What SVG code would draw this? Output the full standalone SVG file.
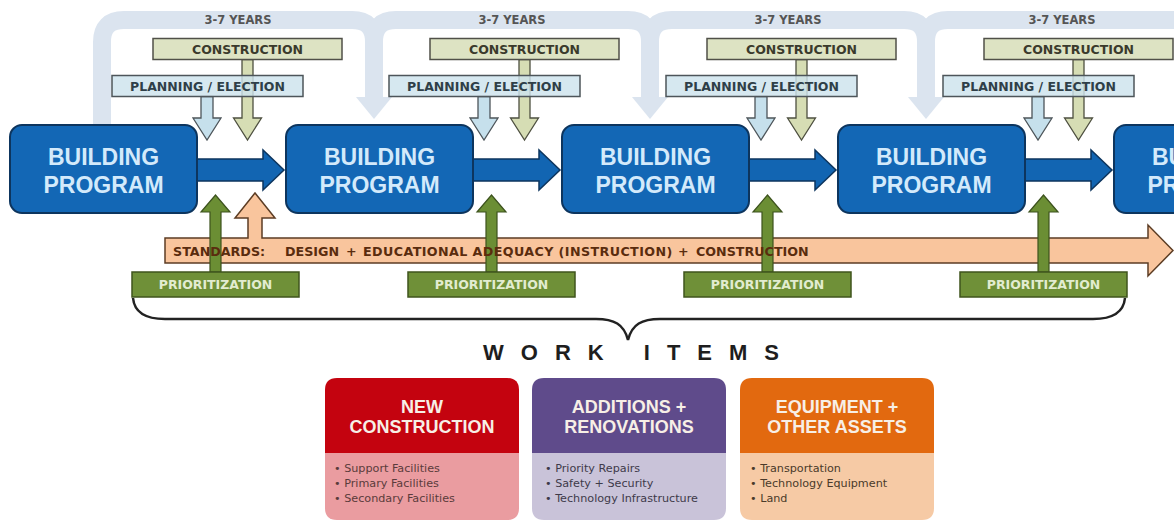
<svg xmlns="http://www.w3.org/2000/svg" width="1174" height="525" viewBox="0 0 1174 525">
<style>
.band{fill:none;stroke:#dbe4ef;stroke-width:18}
.bandhead{fill:#dbe4ef}
.yrs{font-family:"DejaVu Sans",Verdana,sans-serif;font-weight:bold;font-size:11.5px;fill:#555;text-anchor:middle}
.con{fill:#dde3c3;stroke:#505048;stroke-width:1.5}
.plan{fill:#cde3ed;fill-opacity:0.82;stroke:#4d555a;stroke-width:1.5}
.lbl{font-family:"DejaVu Sans",Verdana,sans-serif;font-weight:bold;font-size:12.5px;text-anchor:middle}
.conarr{fill:#d6ddb4;stroke:#4e5040;stroke-width:1.3}
.planarr{fill:#c6e0ec;stroke:#4d555a;stroke-width:1.3}
.bp{fill:#1367b5;stroke:#0d355e;stroke-width:2}
.bpt{font-family:"Liberation Sans",Arial,sans-serif;font-weight:bold;font-size:23px;fill:#d3eafb;text-anchor:middle}
.blue{fill:#1265b2;stroke:#0d355e;stroke-width:1.5}
.green{fill:#6b8e34;stroke:#3c521d;stroke-width:1.2}
.prio{fill:#6f9038;stroke:#3f541d;stroke-width:1.5}
.std{fill:#f9c59d;stroke:#5c3d24;stroke-width:1.5}
.stdt{font-family:"DejaVu Sans",Verdana,sans-serif;font-weight:bold;font-size:12.7px;fill:#5a2c0e}
.hd{font-family:"Liberation Sans",Arial,sans-serif;font-weight:bold;font-size:18px;fill:#f7efe6;text-anchor:middle}
.it{font-family:"DejaVu Sans",Verdana,sans-serif;font-size:11.2px}
</style>

<!-- standards arrow (drawn behind connectors) -->
<g id="standards">
<path class="std" d="M165 238 H248 V218 H235 L255 193 L275 218 H262 V238 H1148 V225 L1173 250.5 L1148 276 V263 H165 Z"/>
</g>

<g id="connectors">
<!-- 3-7 years loops -->
<path class="band" d="M102 128 V42 Q102 20 124 20 H352 Q374 20 374 42 V98"/>
<polygon class="bandhead" points="356,97 392,97 374,119"/>
<path class="band" d="M374 98 V42 Q374 20 396 20 H628 Q650 20 650 42 V98"/>
<polygon class="bandhead" points="632,97 668,97 650,119"/>
<path class="band" d="M650 98 V42 Q650 20 672 20 H904 Q926 20 926 42 V98"/>
<polygon class="bandhead" points="908,97 944,97 926,119"/>
<path class="band" d="M926 98 V42 Q926 20 948 20 H1180"/>
<!-- blue arrows between building programs -->
<path class="blue" d="M190 159 H263 V150 L284 170 L263 190 V181 H190 Z"/>
<path class="blue" d="M466 159 H539 V150 L560 170 L539 190 V181 H466 Z"/>
<path class="blue" d="M742 159 H815 V150 L836 170 L815 190 V181 H742 Z"/>
<path class="blue" d="M1018 159 H1091 V150 L1112 170 L1091 190 V181 H1018 Z"/>
<!-- construction / planning down arrows -->
<path class="conarr" d="M242 59.5 V118 H233.5 L247.5 140 L261.5 118 H253 V59.5 Z"/>
<path class="planarr" d="M201 96.5 V118 H193 L207 140 L221 118 H213 V96.5 Z"/>
<path class="conarr" d="M519 59.5 V118 H510.5 L524.5 140 L538.5 118 H530 V59.5 Z"/>
<path class="planarr" d="M478 96.5 V118 H470 L484 140 L498 118 H490 V96.5 Z"/>
<path class="conarr" d="M796 59.5 V118 H787.5 L801.5 140 L815.5 118 H807 V59.5 Z"/>
<path class="planarr" d="M755 96.5 V118 H747 L761 140 L775 118 H767 V96.5 Z"/>
<path class="conarr" d="M1073 59.5 V118 H1064.5 L1078.5 140 L1092.5 118 H1084 V59.5 Z"/>
<path class="planarr" d="M1032 96.5 V118 H1024 L1038 140 L1052 118 H1044 V96.5 Z"/>
<!-- prioritization up arrows -->
<path class="green" d="M210 272 V212 H201 L215.5 195 L230 212 H221 V272 Z"/>
<path class="green" d="M486 272 V212 H477 L491.5 195 L506 212 H497 V272 Z"/>
<path class="green" d="M762 272 V212 H753 L767.5 195 L782 212 H773 V272 Z"/>
<path class="green" d="M1038 272 V212 H1029 L1043.5 195 L1058 212 H1049 V272 Z"/>
<!-- brace -->
<path d="M133 298 Q135 319 165 319 H596 C614 319 624 324 628 340 C632 324 642 319 660 319 H1093 Q1123 319 1125 298" fill="none" stroke="#222" stroke-width="2.5"/>
</g>

<g id="standards-label">
<text class="stdt" y="255.5"><tspan x="173">STANDARDS:</tspan><tspan x="285">DESIGN</tspan><tspan x="346">+</tspan><tspan x="363" letter-spacing="0.4">EDUCATIONAL ADEQUACY (INSTRUCTION)</tspan><tspan x="678">+</tspan><tspan x="696">CONSTRUCTION</tspan></text>
</g>

<g id="years">
<text class="yrs" x="238" y="24">3-7 YEARS</text>
<text class="yrs" x="512" y="24">3-7 YEARS</text>
<text class="yrs" x="788" y="24">3-7 YEARS</text>
<text class="yrs" x="1062" y="24">3-7 YEARS</text>
</g>

<g id="construction1"><rect class="con" x="153" y="38.5" width="189" height="21"/></g>
<g id="construction2"><rect class="con" x="430" y="38.5" width="189" height="21"/></g>
<g id="construction3"><rect class="con" x="707" y="38.5" width="189" height="21"/></g>
<g id="construction4"><rect class="con" x="984" y="38.5" width="189" height="21"/></g>

<g id="planning1"><rect class="plan" x="112" y="75.5" width="191" height="21"/><text class="lbl" x="207.5" y="90.5" fill="#2f3f48">PLANNING / ELECTION</text></g>
<g id="planning2"><rect class="plan" x="389" y="75.5" width="191" height="21"/><text class="lbl" x="484.5" y="90.5" fill="#2f3f48">PLANNING / ELECTION</text></g>
<g id="planning3"><rect class="plan" x="666" y="75.5" width="191" height="21"/><text class="lbl" x="761.5" y="90.5" fill="#2f3f48">PLANNING / ELECTION</text></g>
<g id="planning4"><rect class="plan" x="943" y="75.5" width="191" height="21"/><text class="lbl" x="1038.5" y="90.5" fill="#2f3f48">PLANNING / ELECTION</text></g>

<g id="construction-labels">
<text class="lbl" x="247.5" y="53.5" fill="#3a3a2c">CONSTRUCTION</text>
<text class="lbl" x="524.5" y="53.5" fill="#3a3a2c">CONSTRUCTION</text>
<text class="lbl" x="801.5" y="53.5" fill="#3a3a2c">CONSTRUCTION</text>
<text class="lbl" x="1078.5" y="53.5" fill="#3a3a2c">CONSTRUCTION</text>
</g>

<g id="bp1"><rect class="bp" x="10" y="125" width="187" height="88" rx="12"/><text class="bpt" x="103.5" y="165">BUILDING</text><text class="bpt" x="103.5" y="193">PROGRAM</text></g>
<g id="bp2"><rect class="bp" x="286" y="125" width="187" height="88" rx="12"/><text class="bpt" x="379.5" y="165">BUILDING</text><text class="bpt" x="379.5" y="193">PROGRAM</text></g>
<g id="bp3"><rect class="bp" x="562" y="125" width="187" height="88" rx="12"/><text class="bpt" x="655.5" y="165">BUILDING</text><text class="bpt" x="655.5" y="193">PROGRAM</text></g>
<g id="bp4"><rect class="bp" x="838" y="125" width="187" height="88" rx="12"/><text class="bpt" x="931.5" y="165">BUILDING</text><text class="bpt" x="931.5" y="193">PROGRAM</text></g>
<g id="bp5"><rect class="bp" x="1114" y="125" width="187" height="88" rx="12"/><text class="bpt" x="1207.5" y="165">BUILDING</text><text class="bpt" x="1207.5" y="193">PROGRAM</text></g>

<g id="prio1"><rect class="prio" x="132" y="272" width="167" height="25"/><text class="lbl" x="215.5" y="289" fill="#e2ecd0">PRIORITIZATION</text></g>
<g id="prio2"><rect class="prio" x="408" y="272" width="167" height="25"/><text class="lbl" x="491.5" y="289" fill="#e2ecd0">PRIORITIZATION</text></g>
<g id="prio3"><rect class="prio" x="684" y="272" width="167" height="25"/><text class="lbl" x="767.5" y="289" fill="#e2ecd0">PRIORITIZATION</text></g>
<g id="prio4"><rect class="prio" x="960" y="272" width="167" height="25"/><text class="lbl" x="1043.5" y="289" fill="#e2ecd0">PRIORITIZATION</text></g>

<g id="work-items"><text x="483" y="360" font-family="Liberation Sans, Arial, sans-serif" font-weight="bold" font-size="22" letter-spacing="17" fill="#1e1e1e">WORK ITEMS</text></g>

<g id="card-new">
<path d="M325 453 V390 Q325 378 337 378 H507 Q519 378 519 390 V453 Z" fill="#c4030f"/>
<path d="M325 453 H519 V508 Q519 520 507 520 H337 Q325 520 325 508 Z" fill="#ea9ca0"/>
<text class="hd" x="422" y="413">NEW</text><text class="hd" x="422" y="433">CONSTRUCTION</text>
<text class="it" fill="#5a3b3b"><tspan x="334" y="472">• Support Facilities</tspan><tspan x="334" y="487">• Primary Facilities</tspan><tspan x="334" y="502">• Secondary Facilities</tspan></text>
</g>
<g id="card-additions">
<path d="M532 453 V390 Q532 378 544 378 H714 Q726 378 726 390 V453 Z" fill="#5f4b8b"/>
<path d="M532 453 H726 V508 Q726 520 714 520 H544 Q532 520 532 508 Z" fill="#c9c3d9"/>
<text class="hd" x="629" y="413">ADDITIONS +</text><text class="hd" x="629" y="433">RENOVATIONS</text>
<text class="it" fill="#3e3a4a"><tspan x="545" y="472">• Priority Repairs</tspan><tspan x="545" y="487">• Safety + Security</tspan><tspan x="545" y="502">• Technology Infrastructure</tspan></text>
</g>
<g id="card-equipment">
<path d="M740 453 V390 Q740 378 752 378 H922 Q934 378 934 390 V453 Z" fill="#e2690f"/>
<path d="M740 453 H934 V508 Q934 520 922 520 H752 Q740 520 740 508 Z" fill="#f6caa5"/>
<text class="hd" x="837" y="413">EQUIPMENT +</text><text class="hd" x="837" y="433">OTHER ASSETS</text>
<text class="it" fill="#4a3a2a"><tspan x="750" y="472">• Transportation</tspan><tspan x="750" y="487">• Technology Equipment</tspan><tspan x="750" y="502">• Land</tspan></text>
</g>
</svg>
